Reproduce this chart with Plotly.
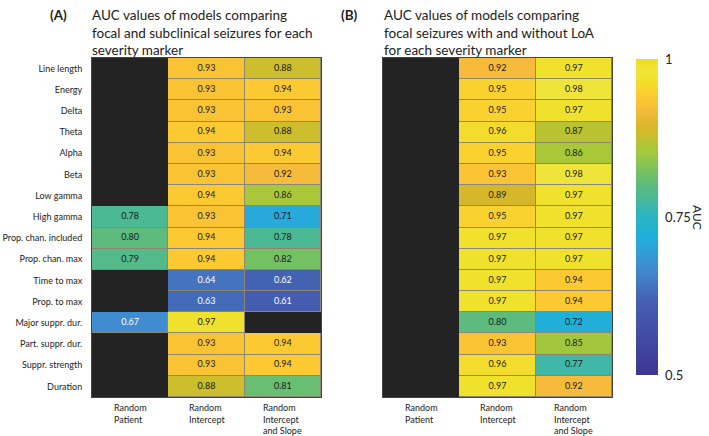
import plotly.graph_objects as go

markers = ["Line length", "Energy", "Delta", "Theta", "Alpha", "Beta", "Low gamma",
           "High gamma", "Prop. chan. included", "Prop. chan. max", "Time to max",
           "Prop. to max", "Major suppr. dur.", "Part. suppr. dur.", "Suppr. strength",
           "Duration"]
col_labels = ["Random<br>Patient", "Random<br>Intercept", "Random<br>Intercept<br>and Slope"]

# Panel A: focal vs subclinical
a_random_patient = [None, None, None, None, None, None, None, 0.78, 0.80, 0.79,
                    None, None, 0.67, None, None, None]
a_random_intercept = [0.93, 0.93, 0.93, 0.94, 0.93, 0.93, 0.94, 0.93, 0.94, 0.94,
                      0.64, 0.63, 0.97, 0.93, 0.93, 0.88]
a_random_int_slope = [0.88, 0.94, 0.93, 0.88, 0.94, 0.92, 0.86, 0.71, 0.78, 0.82,
                      0.62, 0.61, None, 0.94, 0.94, 0.81]

# Panel B: focal with vs without LoA
b_random_patient = [None] * 16
b_random_intercept = [0.92, 0.95, 0.95, 0.96, 0.95, 0.93, 0.89, 0.95, 0.97, 0.97,
                      0.97, 0.97, 0.80, 0.93, 0.96, 0.97]
b_random_int_slope = [0.97, 0.98, 0.97, 0.87, 0.86, 0.98, 0.97, 0.97, 0.97, 0.97,
                      0.94, 0.94, 0.72, 0.85, 0.77, 0.92]

cbar_ticks = [0.5, 0.75, 1.0]
cbar_ticktext = ["0.5", "0.75", "1"]

# custom parula-like colour scale over [0.5, 1]
cscale = [
    [0.00, "#3d3590"], [0.10, "#4148a0"], [0.22, "#455db0"], [0.24, "#4462b2"],
    [0.28, "#4474be"], [0.34, "#3f8cd0"], [0.42, "#27a9db"], [0.44, "#1fafd9"],
    [0.50, "#2ab4c2"], [0.54, "#40b7a7"], [0.56, "#4bb994"], [0.60, "#5dbb7e"],
    [0.64, "#73c163"], [0.70, "#a2c73f"], [0.72, "#a8c83a"], [0.74, "#b9c230"],
    [0.76, "#cdbe2d"], [0.78, "#d6b72a"], [0.84, "#f7bb3c"], [0.86, "#fac334"],
    [0.88, "#fcc932"], [0.90, "#f9d230"], [0.92, "#f3dc2b"], [0.94, "#f0e22c"],
    [0.96, "#eee43a"], [1.00, "#eee020"],
]

FONT = "Lato"
W, H = 709, 436
top_px, bot_px = 58, 397
yd = [1 - bot_px / H, 1 - top_px / H]
xdA = [92 / W, 321 / W]
xdB = [383 / W, 612 / W]

fig = go.Figure()


def add_panel(cols, xa, ya):
    z = [[cols[j][i] for j in range(3)] for i in range(len(markers))]
    zmask = [[1 if v is None else None for v in row] for row in z]
    fig.add_trace(go.Heatmap(z=zmask, x=[0, 1, 2], y=list(range(len(markers))),
                             colorscale=[[0, "#232323"], [1, "#232323"]],
                             showscale=False, hoverinfo="skip", xaxis=xa, yaxis=ya))
    fig.add_trace(go.Heatmap(z=z, x=[0, 1, 2], y=list(range(len(markers))),
                             coloraxis="coloraxis", xgap=1, ygap=1,
                             xaxis=xa, yaxis=ya))
    tx, ty, tt, tc = [], [], [], []
    for i, row in enumerate(z):
        for j, v in enumerate(row):
            if v is None:
                continue
            tx.append(j)
            ty.append(i)
            tt.append(f"{v:.2f}")
            tc.append("white" if v < 0.70 else "#1a1a1a")
    fig.add_trace(go.Scatter(x=tx, y=ty, text=tt, mode="text",
                             textfont=dict(family=FONT, size=9, color=tc),
                             showlegend=False, hoverinfo="skip", xaxis=xa, yaxis=ya))


add_panel([a_random_patient, a_random_intercept, a_random_int_slope], "x", "y")
add_panel([b_random_patient, b_random_intercept, b_random_int_slope], "x2", "y2")

axis_common = dict(showgrid=False, zeroline=False, showline=True, mirror=True,
                   linecolor="#444", linewidth=1)
fig.update_layout(
    width=W, height=H, margin=dict(l=0, r=0, t=0, b=0),
    paper_bgcolor="white", plot_bgcolor="#8c8672",
    showlegend=False,
    font=dict(family=FONT, color="#222"),
    xaxis=dict(domain=xdA, range=[-0.5, 2.5], showticklabels=False, ticks="",
               **axis_common),
    yaxis=dict(domain=yd, range=[15.5, -0.5], tickvals=list(range(len(markers))),
               ticktext=markers, ticks="outside", ticklen=7,
               tickcolor="rgba(0,0,0,0)", tickfont=dict(family=FONT, size=9, color="#222"),
               **axis_common),
    xaxis2=dict(domain=xdB, range=[-0.5, 2.5], showticklabels=False, ticks="",
                anchor="y2", **axis_common),
    yaxis2=dict(domain=yd, range=[15.5, -0.5], showticklabels=False, ticks="",
                anchor="x2", **axis_common),
    coloraxis=dict(
        cmin=0.5, cmax=1.0, colorscale=cscale,
        colorbar=dict(x=636 / W, xanchor="left", y=1 - 217 / H, yanchor="middle",
                      len=316, lenmode="pixels", thickness=22, thicknessmode="pixels",
                      xpad=0, ypad=0,
                      outlinewidth=0, tickvals=cbar_ticks, ticktext=cbar_ticktext,
                      ticks="outside", ticklen=5, tickcolor="rgba(0,0,0,0)",
                      tickfont=dict(family=FONT, size=13, color="#222")),
    ),
)

ann = []
# panel letters and titles
ann.append(dict(x=58 / W, y=1 - 5 / H, xref="paper", yref="paper", xanchor="center",
                yanchor="top", text="<b>(A)</b>", showarrow=False,
                font=dict(family=FONT, size=13.5, color="#222")))
ann.append(dict(x=349 / W, y=1 - 5 / H, xref="paper", yref="paper", xanchor="center",
                yanchor="top", text="<b>(B)</b>", showarrow=False,
                font=dict(family=FONT, size=13.5, color="#222")))
ann.append(dict(x=90 / W, y=1 - 5 / H, xref="paper", yref="paper", xanchor="left",
                yanchor="top", align="left", showarrow=False,
                text="AUC values of models comparing<br>focal and subclinical seizures for each<br>severity marker",
                font=dict(family=FONT, size=13.5, color="#222")))
ann.append(dict(x=382 / W, y=1 - 5 / H, xref="paper", yref="paper", xanchor="left",
                yanchor="top", align="left", showarrow=False,
                text="AUC values of models comparing<br>focal seizures with and without LoA<br>for each severity marker",
                font=dict(family=FONT, size=13.5, color="#222")))
# column labels
for xa in ["x", "x2"]:
    for j, lab in enumerate(col_labels):
        ann.append(dict(x=j, y=1 - 400 / H, xref=xa, yref="paper", xanchor="center",
                        yanchor="top", align="left", showarrow=False, text=lab,
                        font=dict(family=FONT, size=9, color="#222")))
# colorbar title
ann.append(dict(x=698 / W, y=1 - 217 / H, xref="paper", yref="paper", xanchor="center",
                yanchor="middle", text="AUC", textangle=90, showarrow=False,
                font=dict(family=FONT, size=12, color="#222")))
fig.update_layout(annotations=ann)

fig.write_html("out.html", config={"displayModeBar": False},
               post_script="document.body.style.margin='0';document.body.style.overflow='hidden';")
